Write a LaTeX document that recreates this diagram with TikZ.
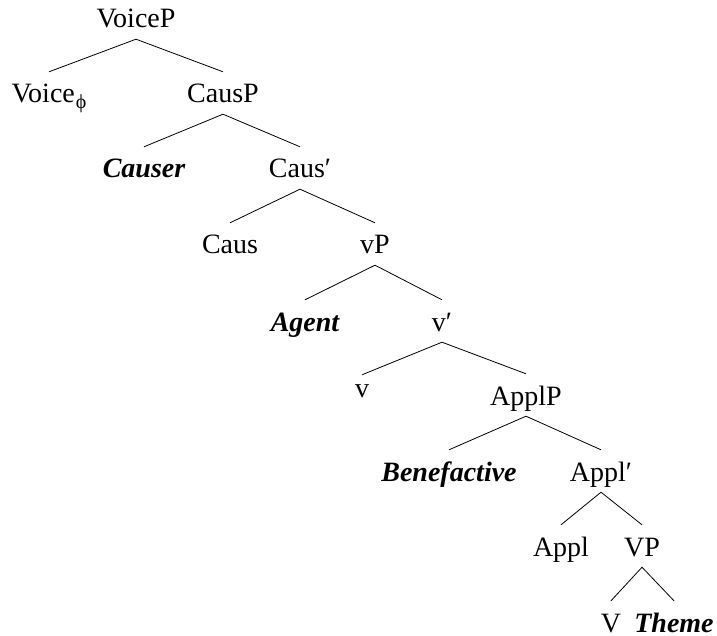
\documentclass[tikz,border=0pt]{standalone}
\usepackage{fontspec}
\setmainfont{Liberation Serif}
\begin{document}
\begin{tikzpicture}[x=1pt,y=-1pt,
  lab/.style={anchor=base,font=\fontsize{28}{34}\selectfont,inner xsep=0pt,inner ysep=8pt,text height=23pt,text depth=3pt},
  arg/.style={lab,font=\fontsize{28}{34}\selectfont\bfseries\itshape},
  leaf/.style={inner ysep=0pt,text height=31pt,text depth=0pt},
  br/.style={line width=0.8pt}]
\useasboundingbox (0,0) rectangle (717,636);
\node[lab] (voicep) at (136,28) {VoiceP};
\node[lab] (voice) at (49,103) {Voice\kern1pt\raisebox{-5.5pt}{\fontsize{20}{20}\selectfont ϕ}};
\node[lab] (causp) at (223,103) {CausP};
\node[arg] (causer) at (144,178) {Causer};
\node[lab] (causbar) at (300,178) {Caus′};
\node[lab] (caus) at (230,254) {Caus};
\node[lab] (vp) at (375,254) {vP};
\node[arg] (agent) at (305,331) {Agent};
\node[lab] (vbar) at (442,331) {v′};
\node[lab,text height=14pt] (v) at (362,397) {v};
\node[lab] (applp) at (526,405) {ApplP};
\node[arg] (bene) at (449,481) {Benefactive};
\node[lab] (applbar) at (601,481) {Appl′};
\node[lab] (appl) at (561,556) {Appl};
\node[lab] (bigvp) at (642,556) {VP};
\node[lab,leaf] (bigv) at (611,632) {V};
\node[arg,leaf] (theme) at (674,632) {Theme};
\draw[br] (voice.north) -- (voicep.south) -- (causp.north);
\draw[br] (causer.north) -- (causp.south) -- (causbar.north);
\draw[br] (caus.north) -- (causbar.south) -- (vp.north);
\draw[br] (agent.north) -- (vp.south) -- (vbar.north);
\draw[br] (v.north) -- (vbar.south) -- (applp.north);
\draw[br] (bene.north) -- (applp.south) -- (applbar.north);
\draw[br] (appl.north) -- (applbar.south) -- (bigvp.north);
\draw[br] (bigv.north) -- (bigvp.south) -- (theme.north);
\end{tikzpicture}
\end{document}
